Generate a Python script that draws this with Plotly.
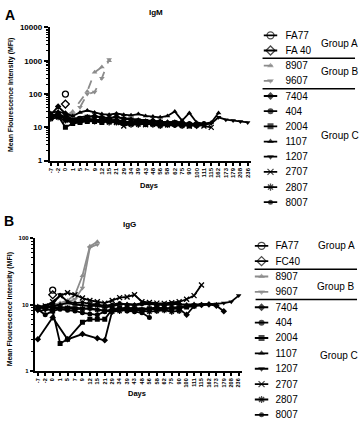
import plotly.graph_objects as go

# ---------------- data ----------------
days = ["-7", "-2", "0", "1", "5", "7", "9", "12", "15", "21", "29", "34", "39", "43",
        "48", "56", "58", "62", "75", "90", "100", "111", "115", "162", "173", "179", "208", "236"]

igm_names = ["FA77", "FA 40", "8907", "9607", "7404", "404", "2004", "1107", "1207", "2707", "2807", "8007"]
igg_names = ["FA77", "FC40", "8907", "9607", "7404", "404", "2004", "1107", "1207", "2707", "2807", "8007"]
group_labels = ["Group A", "Group B", "Group C"]

# IgM (MFI)
igm_fa77 = [None, None, 100]
igm_fa40 = [None, None, 50]
igm_8907 = [None, None, 22, 30, None, 120, 450, 650, 1000]
igm_9607 = [None, None, 20, 25, 40, 100, 115, 300, 1100]
igm_7404 = [24, 42, 26, 16, 18, 20, 22, 20, 19, 21, 18, 17, 16, 15, 16, 15, 14, 14, 13, 12, 11, 12]
igm_404 = [22, 26, 20, 15, 16, 17, 16, 18, 17, 16, 15, 14, 13, 12, 13, 14, 13, 12, 12, 13, 12, 13]
igm_2004 = [20, 22, 10, 13, 14, 15, 15, 14, 16, 15, 14, 13, 14, 15, 13, 12, 12, 13, 12, 11]
igm_1107 = [27, 30, 26, 22, 28, 32, 28, 25, 24, 26, 24, 23, 25, 22, 21, 20, 22, 30, 16, 27, 14, 13, 14, 27]
igm_1207 = [22, 24, 20, 18, 20, 22, 21, 20, 19, 20, 19, 18, 17, 16, 15, 15, 14, 15, 14, 13, 13, 12, 13, 20, 17, 16, 15, 14]
igm_2707 = [20, 22, 18, 15, 16, 18, 17, 16, 15, 14, 11, 13, 14, 12, 13, 14, 12, 13, 12, 11, 12, 11, 10]
igm_2807 = [18, 20, 16, 14, 15, 16, 15, 15, 14, 14, 13, 12, 12, 13, 12, 11, 12, 12, 11, 12]
igm_8007 = [21, 23, 19, 16, 17, 18, 17, 16, 16, 17, 15, 14, 15, 13, 12, 13, 12, 11, 12, 12, 11]

# IgG (MFI)
igg_fa77 = [None, None, 16.5]
igg_fc40 = [None, None, 14]
igg_8907 = [None, None, 10.0, 10.5, 11.5, 14, 27, 75, 88]
igg_9607 = [None, None, 9.5, 10.0, 11.0, 12, 17.7, 72, 80]
igg_7404 = [3.0, None, 6.4, None, 3.0, None, 3.6, None, 3.1, 2.9, 8.0, 8.5, 8.2, 8.0, 8.3, 8.5, 8.6, 8.4,
            8.8, 8.6, 7.0, 9.5, 9.8, 10.0, 9.6, 7.9]
igg_404 = [8.5, 7.0, 8.0, 8.5, 8.2, 8.0, 7.5, 7.2, 7.0, 7.8, 8.5, 8.8, 8.0, 7.8, 7.5, 6.4]
igg_2004 = [9.0, 8.8, 8.0, 2.6, 3.0, None, 5.4, 6.0, 6.0, 6.0, 8.5, 8.8, 9.0, 8.5, 8.3, 8.6, 8.8, 9.0,
            8.5, 8.8, 9.2, 9.5]
igg_1107 = [9.5, 9.0, 9.5, 10.0, 10.5, 10.0, 9.8, 9.5, 9.6, 9.0, 9.5, 10.0, 10.2, 10.0, 10.5, 10.3, 10.0,
            10.2, 10.4, 10.0, 10.0, 10.2, 10.0, 10.3, 10.0]
igg_1207 = [8.0, 8.2, 8.5, 9.0, 9.2, 9.0, 8.8, 8.5, 8.3, 8.0, 8.2, 8.5, 8.8, 9.0, 8.6, 8.8, 9.0, 8.7,
            9.0, 9.2, 9.5, 9.8, 10.0, 10.0, 10.2, 10.5, 11.0, 13.6]
igg_2707 = [9.0, 9.5, 11.0, 13.5, 15.0, 14.0, 12.5, 11.5, 11.0, 10.5, 11.5, 12.7, 13.0, 14.0, 11.0, 10.7,
            10.5, 10.4, 10.6, 11.0, 12.0, 13.6, 19.6]
igg_2807 = [8.8, 9.0, 9.2, 9.0, 8.8, 8.5, 8.6, 8.8, 8.4, 8.0, 7.8, 8.0, 8.2, 8.5, 8.0, 7.8, 8.0, 8.2, 7.8, 8.0]
igg_8007 = [9.2, 9.6, 10.0, 14.0, 11.0, 10.5, 10.8, 10.2, 10.0, 9.5, 10.0, 10.5, 10.0, 9.8, 10.0, 10.2,
            10.0, 9.8, 10.0, 10.3]

igm_series = [igm_fa77, igm_fa40, igm_8907, igm_9607, igm_7404, igm_404, igm_2004,
              igm_1107, igm_1207, igm_2707, igm_2807, igm_8007]
igg_series = [igg_fa77, igg_fc40, igg_8907, igg_9607, igg_7404, igg_404, igg_2004,
              igg_1107, igg_1207, igg_2707, igg_2807, igg_8007]

# ---------------- styles ----------------
BLACK = "#000000"
GRAY = "#8c8c8c"
symbols = ["circle-open", "diamond-open", "triangle-up", "triangle-down", "diamond", "circle",
           "square", "triangle-up", "triangle-down", "x-thin-open", "asterisk-open", "circle"]
colors = [BLACK, BLACK, GRAY, GRAY] + [BLACK] * 8
msizes = [6, 6, 5, 5, 5, 5, 5, 5, 5, 5, 5, 4]
FONT = "Liberation Sans, Arial, sans-serif"
W, H = 360, 426


def px_x(v):
    return v / W


def px_y(v):
    return 1 - v / H


fig = go.Figure()


def add_data(series, xa, ya, dash_gray):
    for i, vals in enumerate(series):
        c = colors[i]
        dash = "dash" if (dash_gray and c == GRAY) else "solid"
        open_sym = symbols[i].endswith("open")
        fig.add_trace(go.Scatter(
            x=days[:len(vals)], y=vals, xaxis=xa, yaxis=ya, mode="lines+markers",
            connectgaps=True,
            line=dict(color=c, width=1.8, dash=dash),
            marker=dict(symbol=symbols[i], size=msizes[i], color=c,
                        line=dict(color=c, width=1.3 if open_sym else 0)),
            showlegend=False, hoverinfo="skip"))


def add_legend(names, xa, ya, dash_gray):
    for i, nm in enumerate(names):
        c = colors[i]
        dash = "dash" if (dash_gray and c == GRAY) else "solid"
        open_sym = symbols[i].endswith("open")
        fig.add_trace(go.Scatter(
            x=[0, 0.5, 1], y=[nm] * 3, xaxis=xa, yaxis=ya, mode="lines+markers",
            line=dict(color=c, width=1.8, dash=dash),
            marker=dict(symbol=symbols[i], size=[0, msizes[i] + 1, 0], color=c,
                        line=dict(color=c, width=1.3 if open_sym else 0)),
            showlegend=False, hoverinfo="skip"))


add_data(igm_series, "x", "y", True)
add_data(igg_series, "x2", "y2", False)
add_legend(igm_names, "x3", "y3", True)
add_legend(igg_names, "x4", "y4", False)

axis_common = dict(showline=True, linecolor=BLACK, linewidth=2, showgrid=False, zeroline=False,
                   ticks="outside", tickcolor=BLACK, tickwidth=1.5)
minor_log = dict(ticks="outside", ticklen=2, tickcolor=BLACK, tickwidth=0.8, showgrid=False, dtick="D1")

fig.update_layout(
    width=W, height=H, margin=dict(l=0, r=0, t=0, b=0),
    paper_bgcolor="white", plot_bgcolor="white", showlegend=False,
    font=dict(family=FONT, color=BLACK),
    xaxis=dict(axis_common, domain=[px_x(48), px_x(250)], anchor="y", type="category",
               categoryorder="array", categoryarray=days, range=[-0.15, 27.4],
               tickangle=-90, ticklen=3, tickfont=dict(size=6, weight="bold")),
    yaxis=dict(axis_common, domain=[px_y(160), px_y(24)], anchor="x", type="log", range=[0, 4],
               tickvals=[1, 10, 100, 1000, 10000], ticktext=["1", "10", "100", "1000", "10000"],
               ticklen=4, tickfont=dict(size=8, weight="bold"), minor=minor_log),
    xaxis2=dict(axis_common, domain=[px_x(33), px_x(241)], anchor="y2", type="category",
                categoryorder="array", categoryarray=days, range=[-0.4, 27.4],
                tickangle=-90, ticklen=3, tickfont=dict(size=5.5, weight="bold")),
    yaxis2=dict(axis_common, domain=[px_y(375), px_y(239)], anchor="x2", type="log", range=[0, 2],
                tickvals=[1, 10, 100], ticktext=["1", "10", "100"],
                ticklen=3, tickfont=dict(size=6, weight="bold"), minor=minor_log),
    xaxis3=dict(domain=[px_x(263), px_x(277)], anchor="y3", range=[0, 1], visible=False),
    yaxis3=dict(domain=[px_y(210.25), px_y(24.25)], anchor="x3", type="category",
                categoryorder="array", categoryarray=igm_names, range=[11.5, -0.5],
                side="right", showline=False, showgrid=False, zeroline=False, ticks="",
                ticklabelstandoff=7, tickfont=dict(size=10)),
    xaxis4=dict(domain=[px_x(254), px_x(268)], anchor="y4", range=[0, 1], visible=False),
    yaxis4=dict(domain=[0, px_y(239.15)], anchor="x4", type="category",
                categoryorder="array", categoryarray=igg_names, range=[11.4, -0.5],
                side="right", showline=False, showgrid=False, zeroline=False, ticks="",
                ticklabelstandoff=6, tickfont=dict(size=10)),
)

# separators in legends
for (x0, x1, y) in [(262, 355, 55.5), (262, 355, 86.5), (254, 357, 271), (255, 357, 302)]:
    fig.add_shape(type="line", xref="paper", yref="paper", x0=px_x(x0), x1=px_x(x1),
                  y0=px_y(y), y1=px_y(y), line=dict(color=BLACK, width=1.5))


def ann(text, x, y, size, bold=False, angle=0, xanchor="center"):
    fig.add_annotation(text=text, xref="paper", yref="paper", x=px_x(x), y=px_y(y),
                       showarrow=False, xanchor=xanchor, yanchor="middle", textangle=angle,
                       font=dict(size=size, family=FONT, color=BLACK,
                                 weight="bold" if bold else "normal"))


# group labels
for lbl, (x, y) in zip(group_labels, [(319, 40), (319, 69), (319, 134)]):
    ann(lbl, x, y, 10, xanchor="left")
for lbl, (x, y) in zip(group_labels, [(316, 247), (315, 289), (318, 359)]):
    ann(lbl, x, y, 10, xanchor="left")

# panel letters & titles
ann("A", 8, 11, 14, bold=True)
ann("IgM", 155, 9, 8, bold=True)
ann("B", 7, 222, 14, bold=True)
ann("IgG", 128, 225, 8, bold=True)
ann("Mean Flourescence Intensity (MFI)", 9, 93, 7, bold=True, angle=-90)
ann("Mean Flourescence Intensity (MFI)", 8, 312, 7, bold=True, angle=-90)
ann("Days", 148, 185, 7.5, bold=True)
ann("Days", 136, 398, 7.5, bold=True)

fig.write_html("out.html", config={"displayModeBar": False},
               post_script="document.body.style.margin='0px';")
